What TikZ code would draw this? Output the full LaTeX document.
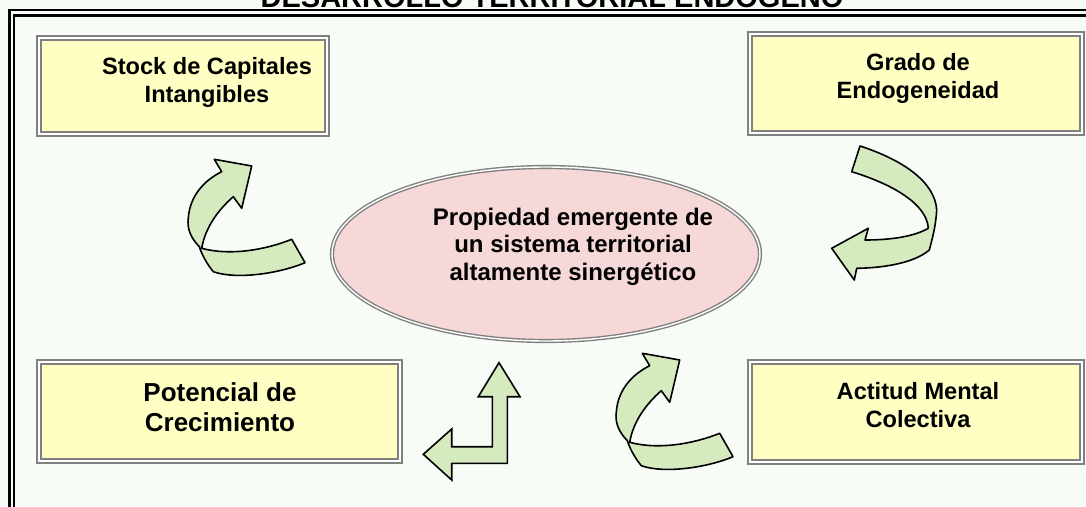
\documentclass[tikz,border=0pt]{standalone}
\usepackage{fontspec}
\setmainfont{Liberation Sans}
\usetikzlibrary{shapes.geometric}
\definecolor{bg}{RGB}{247,252,246}
\definecolor{boxfill}{RGB}{255,255,196}
\definecolor{boxline}{RGB}{128,128,128}
\definecolor{ellfill}{RGB}{246,216,216}
\definecolor{arrfill}{RGB}{214,234,192}
\newcommand{\ribbonA}{%
  (251.7,166) -- (241.7,208.3) -- (233.3,196.7)
  .. controls (218,210) and (205,228) .. (201.7,248.3)
  .. controls (230,256) and (265,250) .. (291.7,239.3)
  -- (305,262.7)
  .. controls (280,273.3) and (236.7,280) .. (213.3,271.7)
  .. controls (207,264) and (202,255) .. (199.3,246.7)
  .. controls (190,237) and (187,228) .. (188.3,218)
  .. controls (190,195) and (205,180) .. (221.7,171.7)
  -- (214.3,159.3) -- cycle}
\tikzset{
  boxst/.style={draw=boxline, double=white, line width=2pt, double distance=2pt, fill=boxfill, inner sep=0pt},
  ellst/.style={draw=boxline, double=white, line width=1.4pt, double distance=1.4pt, fill=ellfill, inner sep=0pt, ellipse},
  lbl/.style={align=center, anchor=base, inner sep=0pt, font=\bfseries\fontsize{23.6}{28}\selectfont},
  arrst/.style={draw=black, line width=1.6pt, fill=arrfill, line join=round},
}
\begin{document}
\begin{tikzpicture}[x=1pt, y=-1pt]
\useasboundingbox (0,0) rectangle (1086,506);
\clip (0,0) rectangle (1086,506);
\fill[bg] (0,0) rectangle (1086,506);
% title
\node[font=\bfseries\fontsize{29}{34}\selectfont, anchor=base, inner sep=0pt] (title) at (552,8) {DESARROLLO TERRITORIAL ENDÓGENO};
% frame
\draw[line width=2.2pt] (9.5,10) rectangle (1110,530);
\draw[line width=2.2pt] (14,15.5) rectangle (1105,525);
% boxes
\node[boxst, minimum width=288pt, minimum height=96pt] (stock) at (183,86) {};
\node[boxst, minimum width=332pt, minimum height=99pt] (grado) at (916,83.5) {};
\node[boxst, minimum width=361pt, minimum height=99pt] (pot) at (219.5,411.5) {};
\node[boxst, minimum width=332pt, minimum height=100pt] (act) at (916,412) {};
% texts (anchor base = last line)
\node[lbl] (stockt) at (207,102) {Stock de Capitales\\Intangibles};
\node[lbl] (gradot) at (918,98) {Grado de\\Endogeneidad};
\node[lbl, font=\bfseries\fontsize{26}{29.5}\selectfont] (pott) at (220,431) {Potencial de\\Crecimiento};
\node[lbl] (actt) at (918,427) {Actitud Mental\\Colectiva};
% ellipse
\node[ellst, minimum width=428pt, minimum height=174pt] (core) at (546,254) {};
\node[lbl, font=\bfseries\fontsize{24}{27.5}\selectfont] (coret) at (573,280) {Propiedad emergente de\\un sistema territorial\\altamente sinergético};
% arrows
\draw[arrst] \ribbonA;
\begin{scope}[shift={(428,194)}]
\draw[arrst] \ribbonA;
\end{scope}
\draw[arrst] (860,146)
  .. controls (903,160) and (935,182) .. (936.7,210)
  .. controls (936,225) and (932,240) .. (929.3,250)
  .. controls (913,264) and (880,268) .. (856.7,268.3)
  -- (854.3,280) -- (831.7,248.3) -- (868.3,228.3) -- (865,240)
  .. controls (893,240) and (915,236) .. (928.3,228.3)
  .. controls (927,205) and (895,185) .. (851.7,171.7)
  -- cycle;
\draw[arrst, line join=miter] (499,362.7) -- (520,396.7) -- (507.3,396.7) -- (507.3,463.3)
  -- (451.7,463.3) -- (451.7,480) -- (423.3,454.3) -- (451.7,429) -- (451.7,446.7)
  -- (492.3,446.7) -- (492.3,396.7) -- (478.3,396.7) -- cycle;
\end{tikzpicture}
\end{document}
